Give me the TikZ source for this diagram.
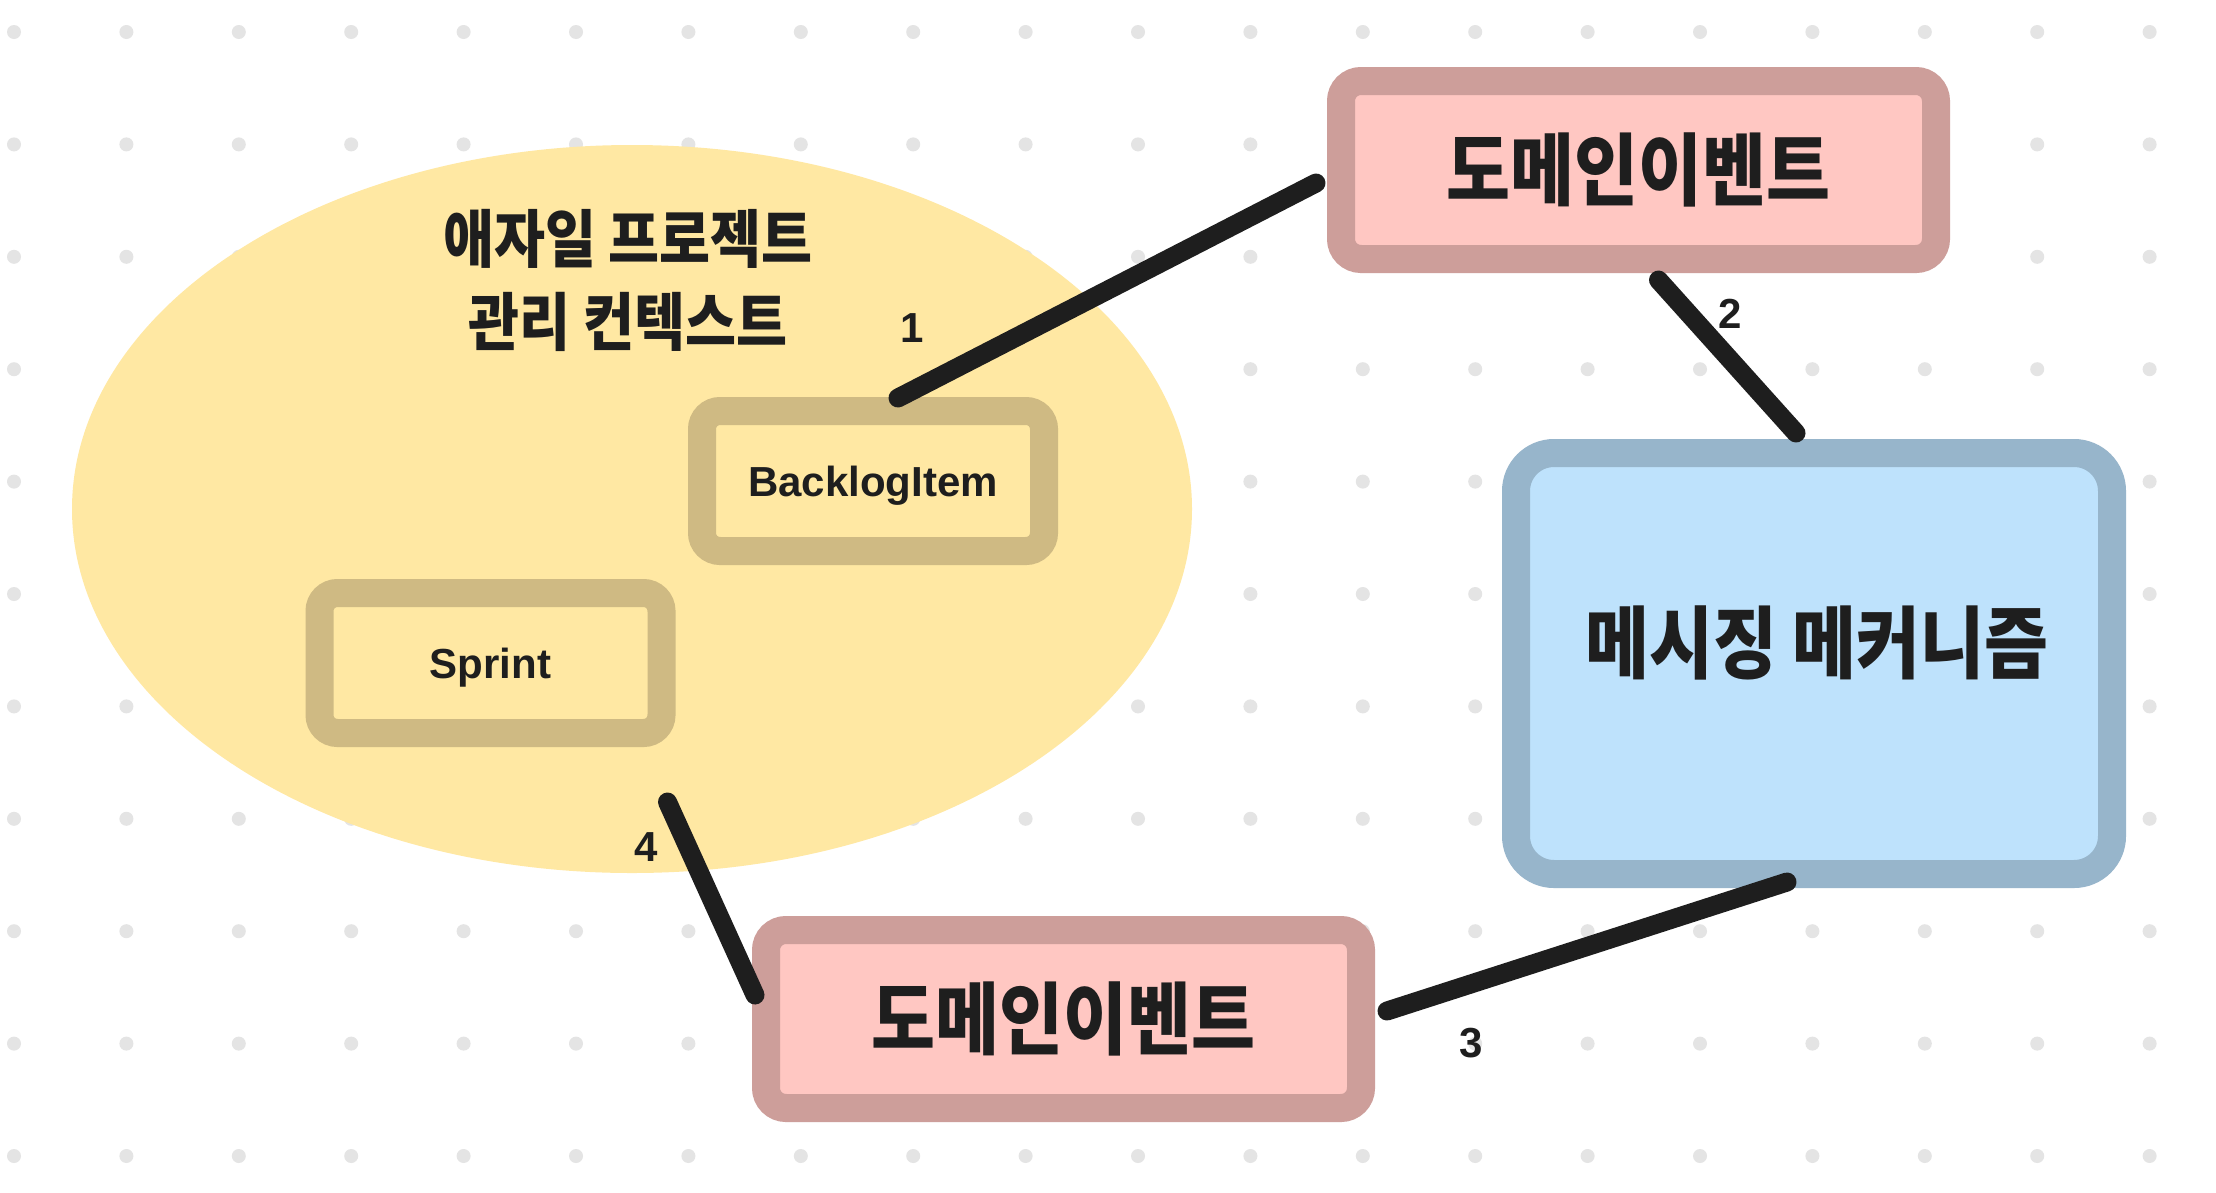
\documentclass[tikz,border=0pt]{standalone}
\usepackage{fontspec}
\setmainfont{Liberation Sans}
\newfontfamily\krfont[FakeStretch=0.88]{Noto Sans CJK KR}
\usetikzlibrary{calc,shapes.geometric}
\definecolor{dotc}{HTML}{E4E4E4}
\definecolor{ctxfill}{HTML}{FFE8A3}
\definecolor{entline}{HTML}{CFBA83}
\definecolor{evfill}{HTML}{FFC7C2}
\definecolor{evline}{HTML}{CD9E9A}
\definecolor{msgfill}{HTML}{BEE2FC}
\definecolor{msgline}{HTML}{97B5CB}
\definecolor{ink}{HTML}{1E1E1E}
\tikzset{
  evbox/.style={draw=evline, fill=evfill, line width=28, rounded corners=20,
    minimum width=595, minimum height=178, inner sep=0, outer sep=0, text=ink,
    font=\krfont\bfseries\fontsize{79}{86}\selectfont},
  msgbox/.style={draw=msgline, fill=msgfill, line width=28, rounded corners=38,
    minimum width=596, minimum height=421, inner sep=0, outer sep=0},
  entbox/.style={draw=entline, fill=ctxfill, line width=28, rounded corners=18,
    minimum width=342, minimum height=140, inner sep=0, outer sep=0, text=ink, text depth=0pt,
    font=\bfseries\fontsize{42}{48}\selectfont},
  bigtext/.style={inner sep=0, outer sep=0, text=ink, font=\krfont\bfseries\fontsize{79}{86}\selectfont},
  titletext/.style={inner sep=0, outer sep=0, text=ink, align=center, font=\krfont\bfseries\fontsize{63}{83}\selectfont},
  numlabel/.style={inner sep=0, outer sep=0, text=ink, font=\bfseries\fontsize{42}{48}\selectfont},
  conn/.style={draw=ink, line width=19, line cap=round}
}
\begin{document}
\begin{tikzpicture}[x=1pt,y=-1pt]
\useasboundingbox (0,0) rectangle (2216,1192);
\fill[white] (0,0) rectangle (2216,1192);
\foreach \i in {0,...,19}{
  \foreach \j in {0,...,10}{
    \fill[dotc] (14+112.4*\i, 32+112.4*\j) circle[radius=7];
  }
}
% context ellipse
\node[ellipse, fill=ctxfill, minimum width=1120, minimum height=728, inner sep=0, outer sep=0] (ctx) at (632,509) {};
\node[titletext] (ctxtitle) at (628,280) {애자일 프로젝트\\관리 컨텍스트};
% entities
\node[entbox] (bl) at (873,481) {BacklogItem};
\node[entbox] (sp) at (490.5,663) {Sprint};
% domain events
\node[evbox] (ev1) at (1638.5,170) {도메인이벤트};
\node[evbox] (ev2) at (1063.5,1019) {도메인이벤트};
% messaging
\node[msgbox] (msg) at (1814,663.5) {};
\node[bigtext] (msgtext) at (1817,643) {메시징 메커니즘};
% connectors
\draw[conn] ($(bl.north)+(25,-13)$) -- ($(ev1.west)+(-25,13)$);
\draw[conn] ($(ev1.south)+(20,21)$) -- ($(msg.north)+(-18,-20)$);
\draw[conn] ($(msg.south)+(-27,8)$) -- ($(ev2.east)+(26,-8)$);
\draw[conn] ($(sp.south east)+(6,69)$) -- ($(ev2.west)+(-11,-24)$);
% labels
\node[numlabel] (n1) at (912,328) {1};
\node[numlabel] (n2) at (1730,314) {2};
\node[numlabel] (n3) at (1471,1043) {3};
\node[numlabel] (n4) at (646,847) {4};
\end{tikzpicture}
\end{document}
